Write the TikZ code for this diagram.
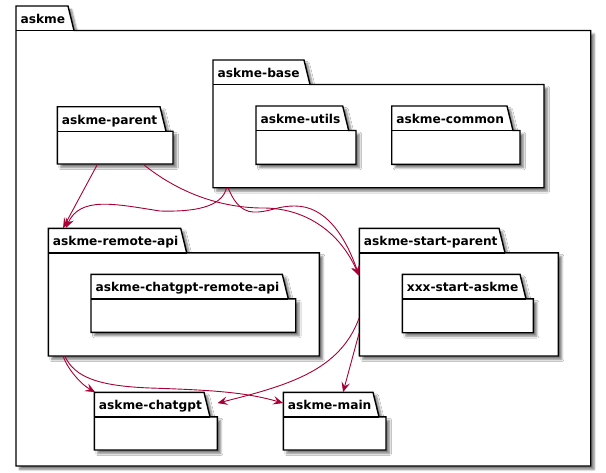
\documentclass[tikz,border=0pt]{standalone}
\usepackage{fontspec}
\setmainfont{DejaVu Sans}
\usetikzlibrary{arrows.meta,fit,shadows.blur}
\definecolor{deparrow}{HTML}{A80036}
\tikzset{pkgline/.style={line width=1.4pt, line join=miter}}
\tikzset{pkgshape/.style={pkgline, fill=white, blur shadow={shadow xshift=3.5pt, shadow yshift=-3.5pt, shadow blur radius=2pt, shadow blur steps=6, shadow opacity=50}}}
\tikzset{pkglabel/.style={anchor=base west, inner sep=0pt, font=\fontsize{12.2}{14}\selectfont\bfseries}}
\tikzset{pkgbox/.style={inner sep=0pt}}
\tikzset{dep/.style={deparrow, line width=0.9pt, -{Stealth[length=10pt,width=8.5pt,inset=4pt]}}}

\newcommand{\package}[7]{%
  \draw[pkgshape] (#2,#3) -- (#4-6,#3) -- (#4,#3+24.5) -- (#5,#3+24.5) -- (#5,#6) -- (#2,#6) -- cycle;
  \draw[pkgline] (#2,#3+24.5) -- (#4,#3+24.5);
  \node[pkglabel] (#1-title) at (#2+4.4,#3+17.5) {#7};
  \node[pkgbox, fit={(#2,#3) (#5,#6)}] (#1) {};
}

\begin{document}
\begin{tikzpicture}[x=1pt,y=-1pt]
  \useasboundingbox (0,0) rectangle (606,472);

  \package{askme}{16}{6}{74}{590.7}{466}{askme}
  \package{base}{213}{60}{310}{544}{187.7}{askme-base}
  \package{utils}{256}{106}{348.7}{356}{164.3}{askme-utils}
  \package{common}{391.7}{106}{513}{520}{164.3}{askme-common}
  \package{parent}{57.3}{106.7}{166}{173}{164}{askme-parent}
  \package{remote}{48.3}{228.3}{186.7}{319.3}{356}{askme-remote-api}
  \package{gptremote}{91}{274.3}{288.3}{295.7}{332.3}{askme-chatgpt-remote-api}
  \package{startparent}{359.3}{228.3}{505}{558.3}{356}{askme-start-parent}
  \package{xxx}{402.3}{274.3}{526}{533.3}{332.7}{xxx-start-askme}
  \package{chatgpt}{94.3}{392.3}{210}{217.3}{450}{askme-chatgpt}
  \package{main}{283.3}{392.3}{379}{386}{450}{askme-main}

  \draw[dep] ([xshift=40.4pt]parent.south west) -- ([xshift=15pt]remote.north west);
  \draw[dep] ([xshift=86pt]parent.south west) .. controls (175,190) and (215,207) .. (260,208)
    .. controls (305,207) and (340,232) .. ([yshift=-47.7pt]startparent.north west);
  \draw[dep] ([xshift=13.7pt]base.south west) .. controls (222,207) and (195,212) .. (160,211)
    .. controls (115,204) and (80,196) .. ([xshift=17.7pt]remote.north west);
  \draw[dep] ([xshift=15.3pt]base.south west) .. controls (236,207) and (245,213) .. (258,212)
    .. controls (272,211) and (278,206) .. (295,206)
    .. controls (325,206) and (345,235) .. ([yshift=-47.7pt]startparent.north west);
  \draw[dep] ([xshift=15pt]remote.south west) .. controls (68,370) and (82,385) .. ([xshift=1pt]chatgpt.north west);
  \draw[dep] ([xshift=16.7pt]remote.south west) .. controls (75,378) and (100,386) .. (150,388)
    .. controls (210,390) and (245,392) .. ([yshift=-11pt]main.north west);
  \draw[dep] ([yshift=-90pt]startparent.north west) .. controls (340,370) and (290,385) .. ([yshift=-11pt]chatgpt.north east);
  \draw[dep] ([yshift=-105pt]startparent.north west) -- ([xshift=60pt]main.north west);
\end{tikzpicture}
\end{document}
